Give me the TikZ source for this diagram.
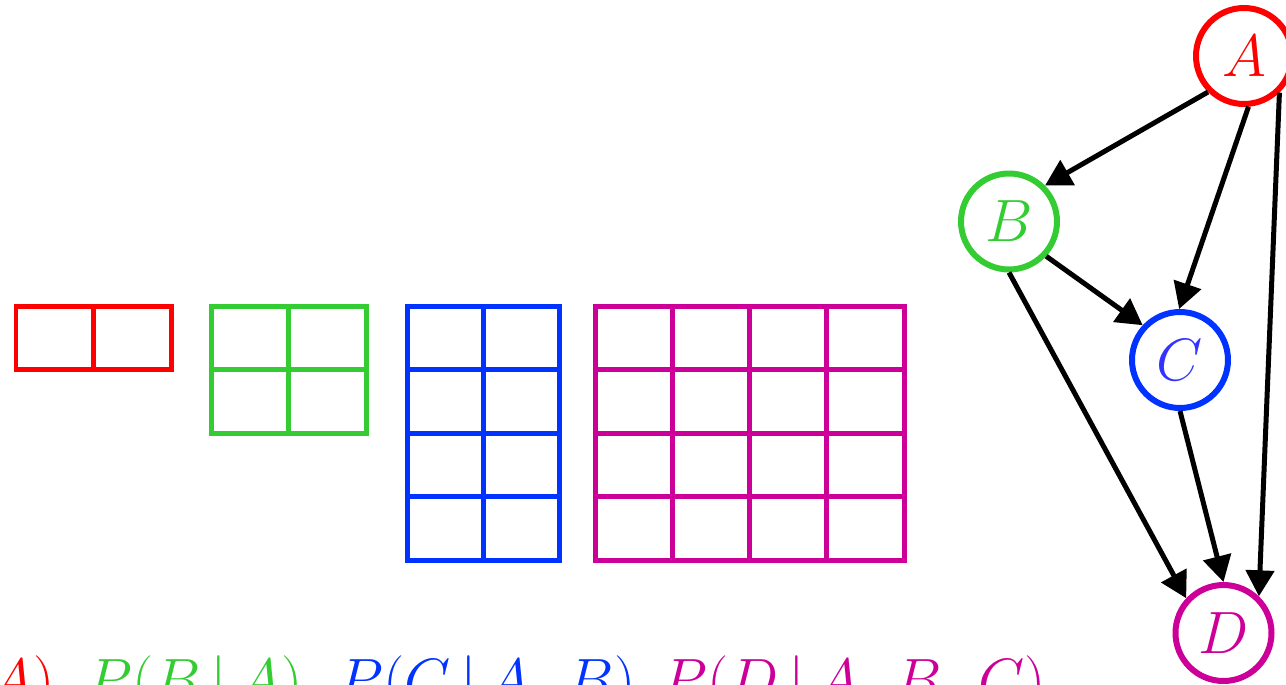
\RequirePackage{fix-cm}
\documentclass[tikz,border=0pt]{standalone}
\usetikzlibrary{arrows.meta}

\definecolor{colA}{HTML}{FF0000}
\definecolor{colB}{HTML}{33CC33}
\definecolor{colC}{HTML}{0033FF}
\definecolor{colCtext}{HTML}{3333FF}
\definecolor{colD}{HTML}{CC0099}

\begin{document}
\begin{tikzpicture}[
        x=0.02cm, y=-0.02cm, % one unit = one pixel, y downwards
        >={Triangle[length=5.2mm,width=5.6mm]},
        varnode/.style={circle, draw, line width=1.2mm, fill=white, minimum size=1.92cm, inner sep=0pt, font=\fontsize{34}{40}\selectfont},
        factor/.style={inner sep=0pt, font=\fontsize{34}{40}\selectfont},
        cpt/.style={line width=1mm},
        link/.style={->, line width=1mm, black}
    ]
    \useasboundingbox (0,0) rectangle (1286,684);

    % ==========================================
    % 1. Conditional probability tables
    % ==========================================
    % P(A): 2 x 1
    \foreach \c in {0,1} {
        \draw[colA, cpt] (16+77.5*\c, 306) rectangle ++(77.5, 63);
    }
    % P(B|A): 2 x 2
    \foreach \c in {0,1} {
        \foreach \r in {0,1} {
            \draw[colB, cpt] (211.5+77.25*\c, 306+63.5*\r) rectangle ++(77.25, 63.5);
        }
    }
    % P(C|A,B): 2 x 4
    \foreach \c in {0,1} {
        \foreach \r in {0,...,3} {
            \draw[colC, cpt] (407+76*\c, 306+63.5*\r) rectangle ++(76, 63.5);
        }
    }
    % P(D|A,B,C): 4 x 4
    \foreach \c in {0,...,3} {
        \foreach \r in {0,...,3} {
            \draw[colD, cpt] (595+77.25*\c, 306+63.5*\r) rectangle ++(77.25, 63.5);
        }
    }

    % ==========================================
    % 2. Factors (bottom row)
    % ==========================================
    \node[factor, anchor=base east, colA] (fA) at (55, 700) {$P(A)$};
    \node[factor, anchor=base west, colB] (fB) at (86, 700) {$P(B\,|\,A)$};
    \node[factor, anchor=base west, colC] (fC) at (337, 700) {$P(C\,|\,A,\,B)$};
    \node[factor, anchor=base west, colD] (fD) at (661, 700) {$P(D\,|\,A,\,B,\,C)$};

    % ==========================================
    % 3. Network
    % ==========================================
    \node[varnode, draw=colA, text=colA] (A) at (1244, 56) {$A$};
    \node[varnode, draw=colB, text=colB] (B) at (1009, 221.5) {$B$};
    \node[varnode, draw=colC, text=colCtext] (C) at (1180, 360) {$C$};
    \node[varnode, draw=colD, text=colD] (D) at (1223.5, 633) {$D$};

    \draw[link] (A.225) -- (B.45);
    \draw[link] (A.-85) -- (C.91);
    \draw[link] (A.-46) -- (D.46);
    \draw[link] (B.-43) -- (C.137);
    \draw[link] (B.-90) -- (D.137);
    \draw[link] (C.-90) -- (D.90);

\end{tikzpicture}
\end{document}
